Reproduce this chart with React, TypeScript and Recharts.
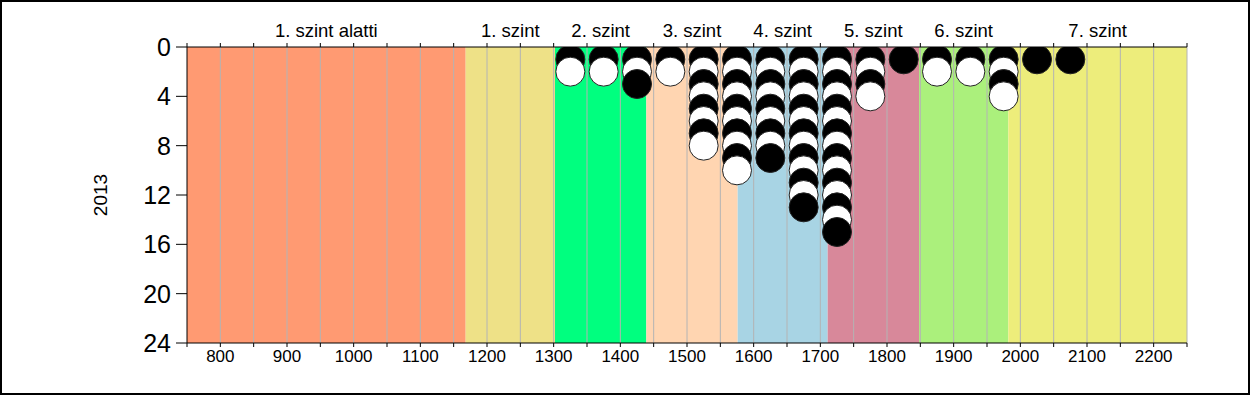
import {
  ReferenceArea,
  ReferenceLine,
  Scatter,
  ScatterChart,
  XAxis,
  YAxis,
} from "recharts";

// Sávok (szintek) határai pontszámban
const bandNames = [
  "1. szint alatti",
  "1. szint",
  "2. szint",
  "3. szint",
  "4. szint",
  "5. szint",
  "6. szint",
  "7. szint",
];
const bandStarts = [750, 1168, 1302, 1439, 1576, 1711, 1848, 1982];
const bandEnds = [1168, 1302, 1439, 1576, 1711, 1848, 1982, 2250];
const bandColors = [
  "#ff9a72",
  "#eee187",
  "#00ff7f",
  "#ffd5b1",
  "#a8d4e4",
  "#d8889a",
  "#abf07c",
  "#eded7b",
];

// Tanulók száma 50 pontos sávonként (sáv közepe)
const binCenters = [
  1325, 1375, 1425, 1475, 1525, 1575, 1625, 1675, 1725, 1775, 1825, 1875, 1925,
  1975, 2025, 2075,
];
const binCounts = [2, 2, 3, 2, 8, 10, 9, 13, 15, 4, 1, 2, 2, 4, 1, 1];

const xTicks = [
  750, 800, 850, 900, 950, 1000, 1050, 1100, 1150, 1200, 1250, 1300, 1350,
  1400, 1450, 1500, 1550, 1600, 1650, 1700, 1750, 1800, 1850, 1900, 1950, 2000,
  2050, 2100, 2150, 2200, 2250,
];
const xLabels = [
  800, 900, 1000, 1100, 1200, 1300, 1400, 1500, 1600, 1700, 1800, 1900, 2000,
  2100, 2200,
];
const yTicks = [0, 4, 8, 12, 16, 20, 24];
const yearLabel = "2013";

const points = binCenters.flatMap((x, i) =>
  Array.from({ length: binCounts[i] }, (_, k) => ({ x, y: k + 1 }))
);

const FONT = "'Liberation Sans', Arial, sans-serif";

function Dot(props: any) {
  const { cx, cy, payload } = props;
  const black = payload.y % 2 === 1;
  return (
    <circle
      cx={cx}
      cy={cy}
      r={14.5}
      fill={black ? "#000" : "#fff"}
      stroke="#222"
      strokeWidth={1}
    />
  );
}

// felirat a sáv fölé, középre
const bandLabel = (name: string) => (p: any) => {
  const vb = p.viewBox;
  return (
    <text
      x={vb.x + vb.width / 2}
      y={vb.y - 10}
      textAnchor="middle"
      fontSize={18.5}
      fontFamily={FONT}
      fill="#000"
    >
      {name}
    </text>
  );
};

export default function App() {
  return (
    <div
      style={{
        position: "absolute",
        left: 0,
        top: 0,
        width: 1250,
        height: 395,
        border: "2px solid #000",
        boxSizing: "border-box",
        background: "#fff",
      }}
    >
      <ScatterChart
        width={1246}
        height={391}
        margin={{ top: 40, right: 61, bottom: 20, left: 105 }}
      >
        <XAxis
          xAxisId="top"
          orientation="top"
          type="number"
          dataKey="x"
          domain={[750, 2250]}
          ticks={xTicks}
          height={5}
          tickSize={4}
          tickFormatter={() => ""}
          stroke="#000"
          allowDataOverflow
        />
        <XAxis
          type="number"
          dataKey="x"
          domain={[750, 2250]}
          ticks={xTicks}
          height={30}
          tickSize={4}
          tickMargin={3}
          interval={0}
          tickFormatter={(v: number) => (xLabels.includes(v) ? String(v) : "")}
          tick={{ fontSize: 17, fill: "#000", fontFamily: FONT }}
          stroke="#000"
          allowDataOverflow
        />
        <YAxis
          type="number"
          dataKey="y"
          reversed
          domain={[0, 24]}
          ticks={yTicks}
          width={80}
          tickSize={11}
          tickMargin={5}
          interval={0}
          tick={{ fontSize: 25, fill: "#000", fontFamily: FONT }}
          stroke="#000"
          allowDataOverflow
          label={{
            content: (p: any) => {
              const vb = p.viewBox;
              const cx = vb.x - 7;
              const cy = vb.y + vb.height / 2;
              return (
                <text
                  x={cx}
                  y={cy}
                  transform={`rotate(-90, ${cx}, ${cy})`}
                  textAnchor="middle"
                  dominantBaseline="central"
                  fontSize={19}
                  fontFamily={FONT}
                  fill="#000"
                >
                  {yearLabel}
                </text>
              );
            },
          }}
        />
        {bandNames.map((name, i) => (
          <ReferenceArea
            key={name}
            x1={bandStarts[i]}
            x2={bandEnds[i]}
            fill={bandColors[i]}
            fillOpacity={1}
            stroke="none"
            label={{ content: bandLabel(name) }}
          />
        ))}
        {xTicks.slice(1).map((t) => (
          <ReferenceLine key={t} x={t} stroke="#b4b4b4" strokeWidth={1} />
        ))}
        <Scatter data={points} shape={Dot} isAnimationActive={false} />
      </ScatterChart>
    </div>
  );
}
